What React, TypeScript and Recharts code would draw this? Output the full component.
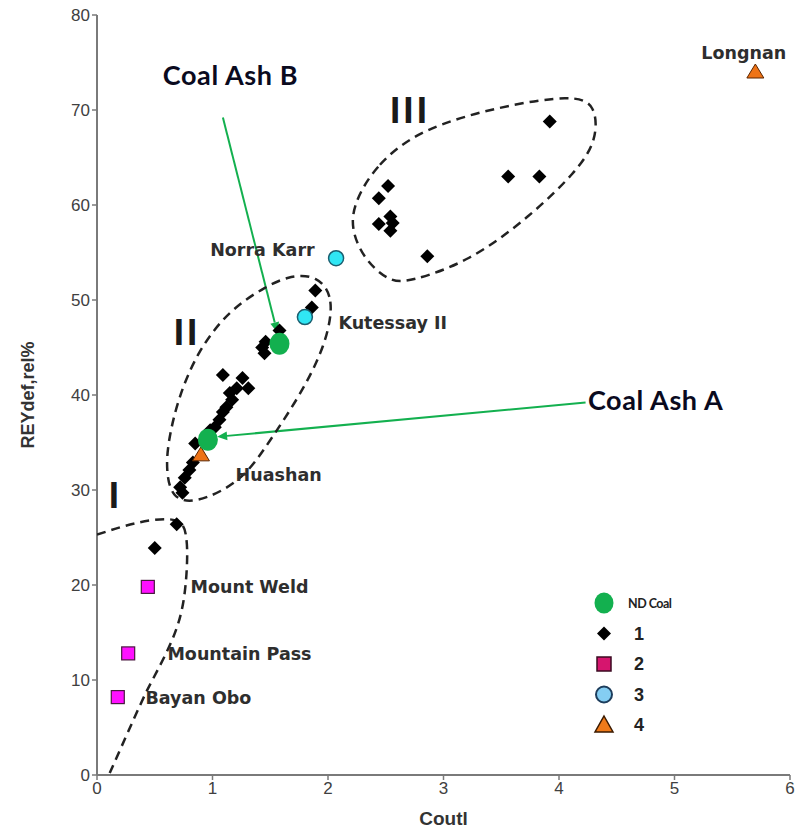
import React from 'react';
import {
  ScatterChart,
  Scatter,
  XAxis,
  YAxis,
  ReferenceLine,
  Legend,
} from 'recharts';

// sample groups (Coutl vs REYdef,rel%)
const ndCoal = [
  { x: 0.96, y: 35.3, name: 'Coal Ash A' },
  { x: 1.58, y: 45.4, name: 'Coal Ash B' },
];

const group1 = [
  // field I
  { x: 0.69, y: 26.4 },
  { x: 0.5, y: 23.9 },
  // field II
  { x: 1.89, y: 51.0 },
  { x: 1.86, y: 49.2 },
  { x: 1.58, y: 46.8 },
  { x: 1.46, y: 45.6 },
  { x: 1.43, y: 45.0 },
  { x: 1.45, y: 44.4 },
  { x: 1.09, y: 42.1 },
  { x: 1.26, y: 41.8 },
  { x: 1.31, y: 40.7 },
  { x: 1.21, y: 40.7 },
  { x: 1.15, y: 40.2 },
  { x: 1.17, y: 39.5 },
  { x: 1.12, y: 38.7 },
  { x: 1.09, y: 38.2 },
  { x: 1.06, y: 37.4 },
  { x: 1.02, y: 36.6 },
  { x: 0.98, y: 36.3 },
  { x: 0.85, y: 34.9 },
  { x: 0.83, y: 32.9 },
  { x: 0.8, y: 32.1 },
  { x: 0.76, y: 31.3 },
  { x: 0.72, y: 30.3 },
  { x: 0.74, y: 29.7 },
  // field III
  { x: 3.92, y: 68.8 },
  { x: 3.56, y: 63.0 },
  { x: 3.83, y: 63.0 },
  { x: 2.52, y: 62.0 },
  { x: 2.44, y: 60.7 },
  { x: 2.54, y: 58.8 },
  { x: 2.56, y: 58.1 },
  { x: 2.44, y: 58.0 },
  { x: 2.54, y: 57.3 },
  { x: 2.86, y: 54.6 },
];

const group2 = [
  { x: 0.44, y: 19.8, name: 'Mount Weld' },
  { x: 0.27, y: 12.8, name: 'Mountain Pass' },
  { x: 0.18, y: 8.2, name: 'Bayan Obo' },
];

const group3 = [
  { x: 2.07, y: 54.4, name: 'Norra Karr' },
  { x: 1.8, y: 48.2, name: 'Kutessay II' },
];

const group4 = [
  { x: 0.9, y: 33.7, name: 'Huashan' },
  { x: 5.7, y: 74.0, name: 'Longnan' },
];

// dashed field boundaries
const fieldI = [
  { x: 0.0, y: 25.3 },
  { x: 0.37, y: 26.6 },
  { x: 0.68, y: 26.8 },
  { x: 0.77, y: 25.2 },
  { x: 0.78, y: 22.6 },
  { x: 0.75, y: 18.4 },
  { x: 0.65, y: 14.2 },
  { x: 0.48, y: 10.0 },
  { x: 0.36, y: 7.0 },
  { x: 0.11, y: 0.2 },
];

const fieldII = [
  { x: 1.9, y: 52.6 },
  { x: 2.06, y: 50.3 },
  { x: 1.98, y: 45.2 },
  { x: 1.76, y: 40.0 },
  { x: 1.52, y: 35.6 },
  { x: 1.31, y: 31.8 },
  { x: 1.08, y: 29.8 },
  { x: 0.82, y: 28.6 },
  { x: 0.65, y: 29.2 },
  { x: 0.6, y: 31.8 },
  { x: 0.61, y: 34.8 },
  { x: 0.7, y: 39.6 },
  { x: 0.87, y: 44.6 },
  { x: 1.14, y: 48.9 },
  { x: 1.47, y: 51.5 },
  { x: 1.68, y: 52.6 },
];

const fieldIII = [
  { x: 2.22, y: 60.2 },
  { x: 2.42, y: 64.3 },
  { x: 2.8, y: 68.0 },
  { x: 3.49, y: 70.4 },
  { x: 4.12, y: 71.6 },
  { x: 4.32, y: 70.6 },
  { x: 4.33, y: 66.8 },
  { x: 4.15, y: 63.5 },
  { x: 3.75, y: 58.8 },
  { x: 3.22, y: 54.0 },
  { x: 2.7, y: 51.9 },
  { x: 2.54, y: 51.9 },
  { x: 2.33, y: 54.0 },
  { x: 2.2, y: 57.2 },
];

const arrowA = [
  { x: 4.23, y: 39.2 },
  { x: 1.04, y: 35.6 },
];
const arrowB = [
  { x: 1.09, y: 69.2 },
  { x: 1.56, y: 46.6 },
];

const xTicks = [0, 1, 2, 3, 4, 5, 6];
const yTicks = [0, 10, 20, 30, 40, 50, 60, 70, 80];

// text annotations, anchored in data units
const pointLabels = [
  { x: 0.98, y: 55.3, text: 'Norra Karr', anchor: 'start' },
  { x: 2.09, y: 47.6, text: 'Kutessay II', anchor: 'start' },
  { x: 1.2, y: 31.6, text: 'Huashan', anchor: 'start' },
  { x: 0.81, y: 19.8, text: 'Mount Weld', anchor: 'start' },
  { x: 0.61, y: 12.7, text: 'Mountain Pass', anchor: 'start' },
  { x: 0.42, y: 8.1, text: 'Bayan Obo', anchor: 'start' },
  { x: 5.6, y: 76.0, text: 'Longnan', anchor: 'middle' },
];
const calloutLabels = [
  { x: 0.57, y: 73.7, text: 'Coal Ash B' },
  { x: 4.25, y: 39.5, text: 'Coal Ash A' },
];
const fieldLabels = [
  { x: 0.16, y: 29.4, text: 'I' },
  { x: 0.78, y: 46.6, text: 'II' },
  { x: 2.71, y: 69.9, text: 'III' },
];

const legendItems = [
  { key: 'nd', label: 'ND Coal' },
  { key: 'g1', label: '1' },
  { key: 'g2', label: '2' },
  { key: 'g3', label: '3' },
  { key: 'g4', label: '4' },
];

const FONT = '"Liberation Sans", Arial, sans-serif';
const LABEL_FONT = '"DejaVu Sans", Verdana, sans-serif';
const GREEN = '#13b04f';

const Nothing = () => <g />;

const GreenDot = ({ cx, cy }: any) => <ellipse cx={cx} cy={cy} rx={10} ry={11} fill={GREEN} />;

const Diamond = ({ cx, cy }: any) => (
  <polygon
    points={`${cx},${cy - 7} ${cx + 7},${cy} ${cx},${cy + 7} ${cx - 7},${cy}`}
    fill="#000"
  />
);

const MagentaSquare = ({ cx, cy }: any) => (
  <rect x={cx - 6.5} y={cy - 6.5} width={13} height={13} fill="#ff10ff" stroke="#4a1a40" strokeWidth={1.2} />
);

const CyanDot = ({ cx, cy }: any) => (
  <circle cx={cx} cy={cy} r={7.5} fill="#30e6f4" stroke="#1b5f70" strokeWidth={1.5} />
);

const OrangeTriangle = ({ cx, cy }: any) => (
  <polygon
    points={`${cx},${cy - 8} ${cx + 8.5},${cy + 6} ${cx - 8.5},${cy + 6}`}
    fill="#ee7316"
    stroke="#5a2500"
    strokeWidth={1}
  />
);

const PointLabel = ({ cx, cy, payload }: any) => (
  <text
    x={cx}
    y={cy}
    textAnchor={payload.anchor}
    dominantBaseline="central"
    fontFamily={LABEL_FONT}
    fontWeight="bold"
    fontSize={17.5}
    fill="#2e2e2e"
  >
    {payload.text}
  </text>
);

const CalloutLabel = ({ cx, cy, payload }: any) => (
  <text
    x={cx}
    y={cy}
    dominantBaseline="central"
    fontFamily="Lato, sans-serif"
    fontWeight="bold"
    fontSize={27}
    letterSpacing={0.6}
    fill="#0a0a1e"
  >
    {payload.text}
  </text>
);

const FieldLabel = ({ cx, cy, payload }: any) => (
  <text
    x={cx}
    y={cy}
    textAnchor="middle"
    dominantBaseline="central"
    fontFamily={FONT}
    fontWeight="bold"
    fontSize={37}
    letterSpacing={3}
    fill="#1a1a1a"
  >
    {payload.text}
  </text>
);

// green pointer line with a small head at the second point
const Arrow = (props: any) => {
  const { x1, y1, x2, y2 } = props;
  const a = Math.atan2(y2 - y1, x2 - x1);
  const len = 10;
  const w = 4.5;
  const bx = x2 - len * Math.cos(a);
  const by = y2 - len * Math.sin(a);
  const px = -Math.sin(a) * w;
  const py = Math.cos(a) * w;
  return (
    <g>
      <line x1={x1} y1={y1} x2={bx} y2={by} stroke={GREEN} strokeWidth={2} />
      <polygon points={`${x2},${y2} ${bx + px},${by + py} ${bx - px},${by - py}`} fill={GREEN} />
    </g>
  );
};

const legendSymbol = (key: string) => {
  switch (key) {
    case 'nd':
      return <ellipse cx={14} cy={12} rx={9.5} ry={10.5} fill={GREEN} />;
    case 'g1':
      return <polygon points="14,5 21,12 14,19 7,12" fill="#000" />;
    case 'g2':
      return <rect x={7} y={5} width={14} height={14} fill="#d6156e" stroke="#3a0a20" strokeWidth={1.5} />;
    case 'g3':
      return <circle cx={14} cy={12} r={8} fill="#84cdf2" stroke="#1d3d5c" strokeWidth={2} />;
    default:
      return <polygon points="14,3 23,19 5,19" fill="#ee7a1a" stroke="#3a1a00" strokeWidth={1.5} />;
  }
};

const LegendBox = () => (
  <svg width={140} height={152}>
    {legendItems.map((it, i) => (
      <g key={it.key} transform={`translate(0, ${i * 30.5})`}>
        {legendSymbol(it.key)}
        <text
          x={it.key === 'nd' ? 38 : 44}
          y={12}
          dominantBaseline="central"
          fontFamily={it.key === 'nd' ? 'Lato, sans-serif' : FONT}
          fontWeight="bold"
          fontSize={it.key === 'nd' ? 12.5 : 18}
          letterSpacing={it.key === 'nd' ? -0.5 : 0}
          fill="#222"
        >
          {it.label}
        </text>
      </g>
    ))}
  </svg>
);

export default function App() {
  return (
    <div style={{ position: 'absolute', left: 0, top: 0, background: '#fff' }}>
      <ScatterChart width={797} height={840} margin={{ top: 15, right: 7, bottom: 15, left: 37 }}>
        <XAxis
          type="number"
          dataKey="x"
          domain={[0, 6]}
          ticks={xTicks}
          allowDataOverflow
          axisLine={{ stroke: '#7a7a7a', strokeWidth: 2 }}
          tickLine={{ stroke: '#7a7a7a', strokeWidth: 1.5 }}
          tickSize={5}
          tick={{ fontFamily: FONT, fontSize: 17, fill: '#404040' }}
          height={50}
          label={{ value: 'Coutl', position: 'insideBottom', offset: 0, fontFamily: FONT, fontWeight: 'bold', fontSize: 19, fill: '#333' }}
        />
        <YAxis
          type="number"
          dataKey="y"
          domain={[0, 80]}
          ticks={yTicks}
          allowDataOverflow
          axisLine={{ stroke: '#7a7a7a', strokeWidth: 2 }}
          tickLine={{ stroke: '#7a7a7a', strokeWidth: 1.5 }}
          tickSize={5}
          tick={{ fontFamily: FONT, fontSize: 17, fill: '#404040' }}
          width={60}
          label={{ value: 'REYdef,rel%', angle: -90, position: 'insideLeft', offset: -9, fontFamily: FONT, fontWeight: 'bold', fontSize: 18, fill: '#333', style: { textAnchor: 'middle' } }}
        />
        <Legend
          layout="vertical"
          align="center"
          verticalAlign="middle"
          wrapperStyle={{ left: 590, top: 591, width: 140 }}
          content={() => <LegendBox />}
        />

        <Scatter data={fieldI} shape={Nothing} line={{ stroke: '#222', strokeWidth: 2.5, strokeDasharray: '9 6' }} lineJointType="natural" legendType="none" isAnimationActive={false} />
        <Scatter data={fieldII} shape={Nothing} line={{ stroke: '#222', strokeWidth: 2.5, strokeDasharray: '9 6' }} lineJointType="basisClosed" legendType="none" isAnimationActive={false} />
        <Scatter data={fieldIII} shape={Nothing} line={{ stroke: '#222', strokeWidth: 2.5, strokeDasharray: '9 6' }} lineJointType="basisClosed" legendType="none" isAnimationActive={false} />

        <Scatter name="1" data={group1} shape={Diamond} isAnimationActive={false} />
        <Scatter name="2" data={group2} shape={MagentaSquare} isAnimationActive={false} />
        <Scatter name="3" data={group3} shape={CyanDot} isAnimationActive={false} />
        <Scatter name="4" data={group4} shape={OrangeTriangle} isAnimationActive={false} />
        <Scatter name="ND Coal" data={ndCoal} shape={GreenDot} isAnimationActive={false} />

        <ReferenceLine segment={arrowA} shape={Arrow} ifOverflow="visible" />
        <ReferenceLine segment={arrowB} shape={Arrow} ifOverflow="visible" />

        <Scatter data={pointLabels} shape={PointLabel} legendType="none" isAnimationActive={false} />
        <Scatter data={calloutLabels} shape={CalloutLabel} legendType="none" isAnimationActive={false} />
        <Scatter data={fieldLabels} shape={FieldLabel} legendType="none" isAnimationActive={false} />
      </ScatterChart>
    </div>
  );
}
